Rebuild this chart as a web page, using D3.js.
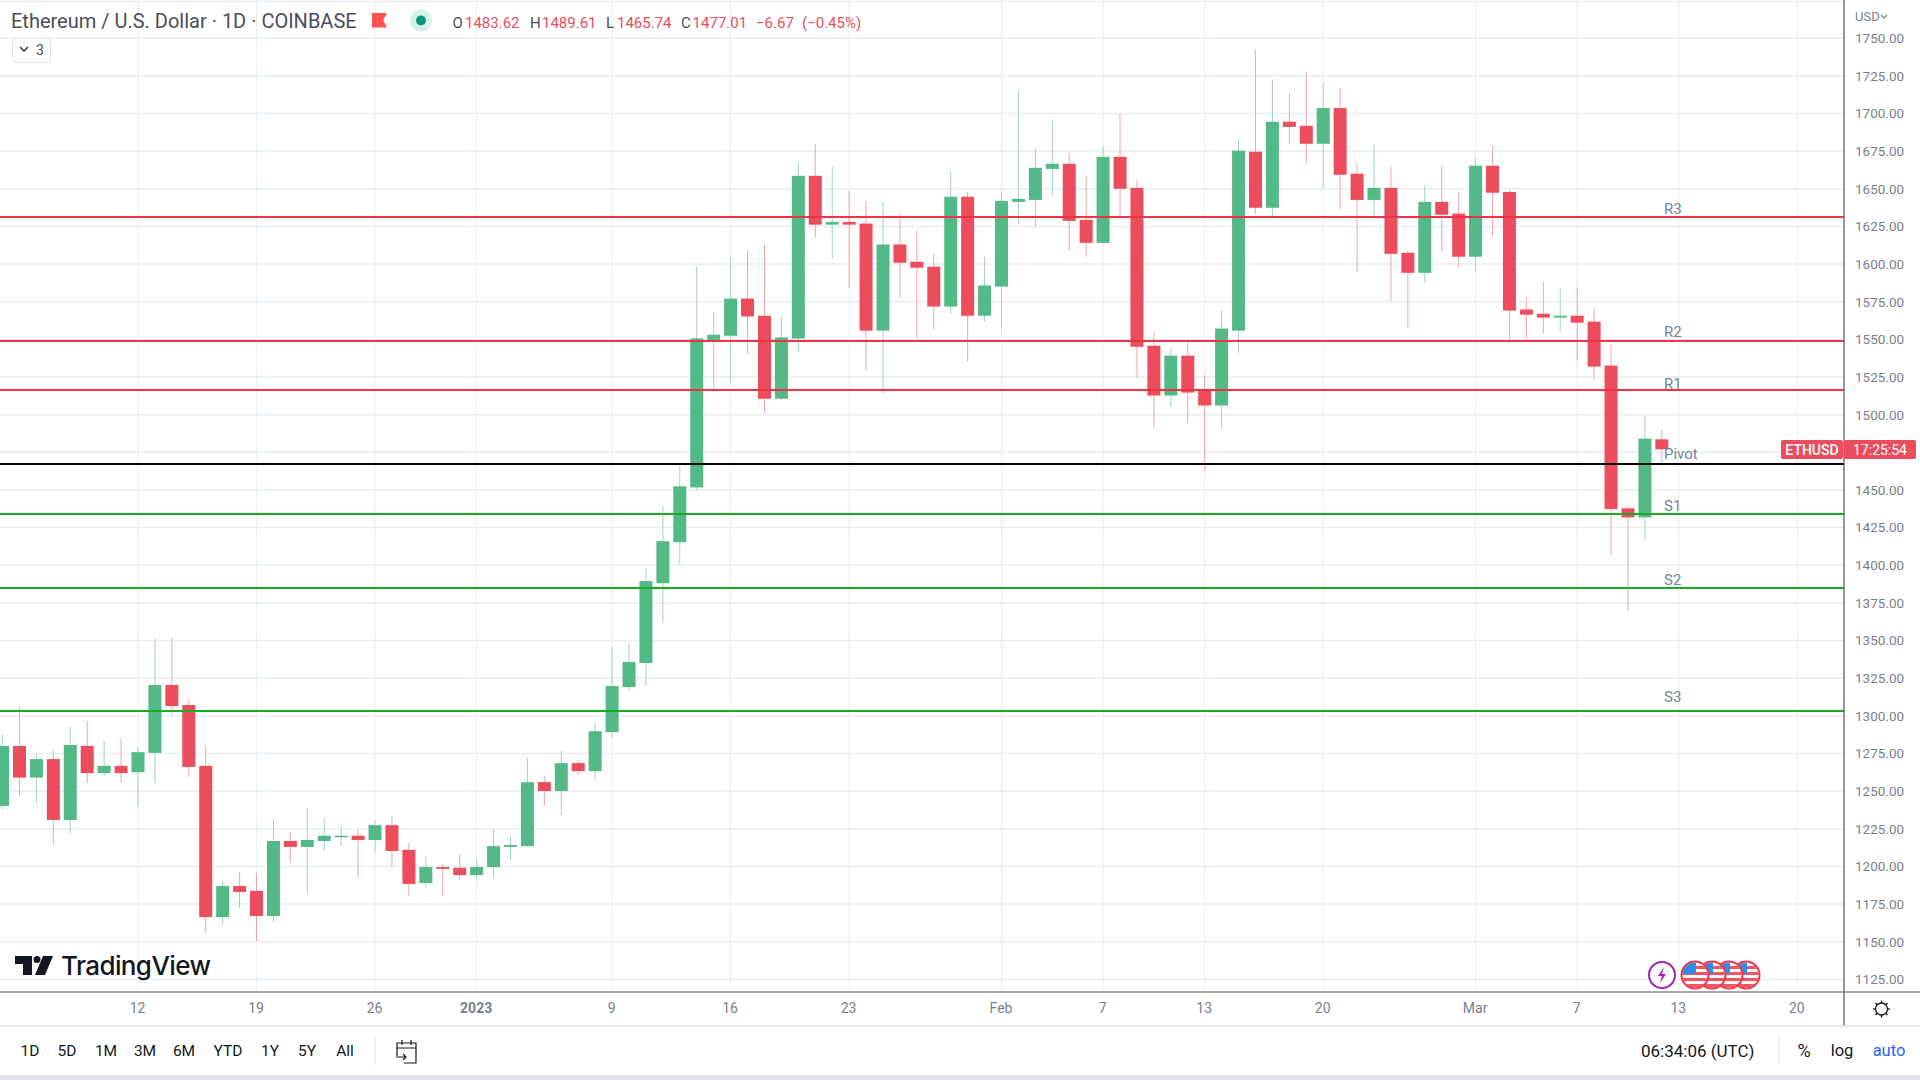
<!DOCTYPE html>
<html>
<head>
<meta charset="utf-8">
<script src="https://cdn.jsdelivr.net/npm/d3@7/dist/d3.min.js"></script>
<style>
html,body{margin:0;padding:0;background:#fff;overflow:hidden}
svg{display:block}
text{font-family:Roboto,"Open Sans",sans-serif}
</style>
</head>
<body>
<svg id="c" width="1920" height="1080"></svg>
<script>
const firstDay = "2022-12-04";
const opens = [1240.2,1280,1259,1271.3,1230.9,1280,1262,1266.8,1262.6,1275.4,1320.5,1307.2,1266.8,1166.4,1187,1183.8,1167.1,1216.9,1213,1216.9,1219.7,1220.4,1217.6,1227.4,1211,1189,1199.6,1199.1,1194.3,1199.6,1213,1213.5,1256,1250.1,1268.6,1263.3,1289.2,1319.1,1335.1,1388.1,1415.3,1451.7,1549.5,1552.4,1577.1,1565.7,1510.6,1550.6,1658.6,1626.2,1628,1626.9,1555.8,1613,1601.5,1598.3,1571.8,1644.7,1565.7,1585.1,1641.3,1642.6,1663.2,1666.6,1629.4,1614.1,1671.2,1650.6,1545.8,1512.7,1539.2,1516.6,1506.1,1555.8,1674.6,1637.4,1694.5,1691.8,1679.9,1703.6,1660,1642.6,1650.6,1607.5,1594.2,1641.3,1633.5,1604.9,1665.3,1647.9,1569.8,1567,1564.5,1565.7,1561.8,1532.6,1437.8,1431.8,1483.62];
const highs = [1287.3,1305.8,1275,1277.3,1292.6,1296.5,1283.2,1284.8,1279.3,1351.1,1351.6,1311.1,1280,1190.4,1196.4,1195.7,1231.5,1222.9,1238.9,1231.5,1227.4,1224.2,1230.9,1233.8,1215.6,1206.4,1201.8,1208.2,1204.4,1224.7,1219.7,1272.2,1259.9,1276.6,1270.6,1295.3,1345.8,1348.4,1398.2,1439.1,1466.3,1598.3,1567.9,1604.5,1608.8,1612.9,1565.2,1668,1679.9,1664.6,1648.6,1641.7,1641,1633.5,1622.1,1606.8,1661.4,1647.9,1604.9,1647.9,1715.1,1676.4,1695.2,1673.9,1658.6,1678.5,1699.5,1655.9,1555.2,1544,1549.2,1526.6,1569.1,1682.4,1742.2,1722.4,1713.7,1727,1720.3,1716.9,1667.3,1679.2,1664.6,1608.8,1652,1665.3,1647.9,1669.8,1678.5,1649.3,1577.8,1588.3,1583.7,1584.4,1571.2,1546.5,1439.1,1499.4,1489.61];
const lows = [1238,1246.9,1242.1,1214.9,1221.7,1255.3,1259.7,1255.3,1240.2,1255.3,1300.6,1259.4,1155.9,1161.8,1172.4,1150.4,1163.2,1203,1182.4,1211,1213.5,1192.9,1209.2,1199.6,1180.4,1186.3,1180.4,1191.1,1190.4,1192.4,1204.4,1213,1240.2,1234.1,1260.8,1257.4,1285.7,1316.6,1319.8,1361.6,1400.7,1449.9,1517.3,1521.4,1540.5,1501,1509.5,1541.9,1617.5,1603.6,1584.4,1529.4,1514.3,1577.8,1550.6,1556.5,1567,1535.3,1561.8,1557.2,1626.2,1624.8,1645.4,1608.8,1604.9,1613.4,1631.9,1524.5,1491.4,1505.4,1494.2,1462.4,1490.8,1541.2,1633.5,1630.1,1680.6,1666.6,1650.6,1636.7,1594.9,1629.4,1575.7,1557.9,1587.6,1608.2,1597.6,1594.9,1618.9,1547.9,1550.6,1553.8,1555.2,1536,1523.4,1406.6,1369.8,1417.2,1465.74];
const closes = [1280,1259,1271.3,1230.9,1280.7,1262,1266.8,1262,1275.9,1320.5,1306.5,1266.1,1166.4,1187,1183.1,1167.1,1216.9,1213,1217.6,1220.4,1220.4,1217.6,1227.4,1210.3,1188.4,1199.6,1198.4,1194.3,1199.6,1213.5,1214.2,1256,1250.1,1268.6,1263.3,1289.8,1319.8,1335.8,1389.5,1416,1452.4,1550.6,1553.1,1577.1,1565.2,1510.6,1551.3,1658.6,1626.2,1628,1626.2,1555.8,1613,1600.9,1597.6,1571.8,1644.7,1565.7,1585.8,1642,1643.3,1663.9,1666.6,1628.7,1614.1,1671.2,1650,1545.1,1512.7,1539.2,1514.7,1506.1,1557.2,1675.3,1637.4,1694.5,1691.1,1679.9,1703.6,1659.3,1642.6,1650.6,1606.8,1594.2,1641.3,1632.8,1604.9,1665.3,1647.4,1569.1,1566.4,1564.5,1565.7,1561.1,1531.9,1437.3,1431.8,1484.1,1477.01];

const levelNames = ["R3","R2","R1","Pivot","S1","S2","S3"];
const levelValues = [1631.5,1549.2,1516.1,1467.3,1434.2,1384.9,1303.3];
const levelColors = ["#ee3344","#ee3344","#ee3344","#000000","#18ac24","#18ac24","#18ac24"];
const levelLabelShift = [-7.6,-8.6,-6.4,-10,-8.4,-8,-13.9];

const priceTicks = [1125,1150,1175,1200,1225,1250,1275,1300,1325,1350,1375,1400,1425,1450,1475,1500,1525,1550,1575,1600,1625,1650,1675,1700,1725,1750];
const dateTicks = ["2022-12-12","2022-12-19","2022-12-26","2023-01-01","2023-01-09","2023-01-16","2023-01-23","2023-02-01","2023-02-07","2023-02-13","2023-02-20","2023-03-01","2023-03-07","2023-03-13","2023-03-20"];
const dateLabels = ["12","19","26","2023","9","16","23","Feb","7","13","20","Mar","7","13","20"];
const rangeButtons = ["1D","5D","1M","3M","6M","YTD","1Y","5Y","All"];
const rangeCenters = [30,67,106,145,184,228,270,307,345];

const UP="#53b987", DOWN="#eb4d5c", GRID="#e6edf3", AXIS="#50535e", MUTED="#7b7f8a";
const svg=d3.select("#c");
const day=d=>new Date(d+"T00:00:00Z");
const x=d3.scaleUtc().domain([day("2022-12-12"),day("2023-03-20")]).range([138,1797.3]);
const y=d3.scaleLinear().domain([1125,1750]).range([979.4,38.2]);
const W=1844,H=992;

// grid
svg.append("defs").append("clipPath").attr("id","plot").append("rect").attr("width",W).attr("height",H);
const grid=svg.append("g").attr("clip-path","url(#plot)");
grid.selectAll(".v").data(dateTicks).join("line").attr("x1",d=>x(day(d))).attr("x2",d=>x(day(d))).attr("y1",0).attr("y2",H).attr("stroke",GRID).attr("stroke-width",1);
grid.selectAll(".h").data(priceTicks).join("line").attr("y1",d=>y(d)).attr("y2",d=>y(d)).attr("x1",0).attr("x2",W).attr("stroke",GRID).attr("stroke-width",1.5);
grid.append("line").attr("x1",0).attr("x2",W).attr("y1",1.5).attr("y2",1.5).attr("stroke",GRID).attr("stroke-width",1.5);

// candles
const rows=opens.map((o,i)=>({date:d3.utcDay.offset(day(firstDay),i),o,h:highs[i],l:lows[i],c:closes[i]}));
const cg=svg.append("g").attr("clip-path","url(#plot)");
cg.selectAll(".wick").data(rows).join("line")
 .attr("x1",d=>x(d.date)).attr("x2",d=>x(d.date)).attr("y1",d=>y(d.h)).attr("y2",d=>y(d.l))
 .attr("stroke",d=>d.c>=d.o?"#9fd3c4":"#f4a3ab").attr("stroke-width",1);
cg.selectAll(".body").data(rows).join("rect")
 .attr("x",d=>x(d.date)-6.5).attr("width",13)
 .attr("y",d=>y(Math.max(d.o,d.c))).attr("height",d=>Math.max(1.5,Math.abs(y(d.o)-y(d.c))))
 .attr("fill",d=>d.c>=d.o?UP:DOWN);

// levels
const lg=svg.append("g");
levelValues.forEach((v,i)=>{
  const ly=Math.round(y(v));
  lg.append("line").attr("x1",0).attr("x2",W).attr("y1",ly).attr("y2",ly).attr("stroke",levelColors[i]).attr("stroke-width",2);
});
lg.selectAll("text").data(levelNames).join("text")
 .attr("x",1664).attr("y",(d,i)=>y(levelValues[i])+levelLabelShift[i]).attr("dy","0.35em")
 .attr("font-size",15).attr("fill","#728496").text(d=>d);

// price axis
const yAxis=d3.axisRight(y).tickValues(priceTicks).tickFormat(d3.format(".2f")).tickSize(0).tickPadding(11);
const ya=svg.append("g").attr("transform",`translate(${W},0)`).call(yAxis);
ya.select(".domain").remove();
ya.selectAll("text").attr("font-size",13.5).attr("fill",MUTED).style("font-family","Roboto");
svg.append("line").attr("x1",W).attr("x2",W).attr("y1",0).attr("y2",1026).attr("stroke",AXIS).attr("stroke-width",1.2);
svg.append("text").attr("x",1855).attr("y",21).attr("font-size",13).attr("fill",MUTED).text("USD");
svg.append("path").attr("d","M1881 15l3 3l3-3").attr("fill","none").attr("stroke",MUTED).attr("stroke-width",1.2);

// time axis
const xAxis=d3.axisBottom(x).tickValues(dateTicks.map(day)).tickFormat((d,i)=>dateLabels[i]).tickSize(0).tickPadding(11);
const xa=svg.append("g").attr("transform",`translate(-1,${H})`).call(xAxis);
xa.select(".domain").remove();
xa.selectAll("text").attr("font-size",14).attr("fill",MUTED).style("font-family","Roboto")
  .attr("font-weight",(d,i)=>dateLabels[i]==="2023"?700:400);
svg.append("line").attr("x1",0).attr("x2",1920).attr("y1",H).attr("y2",H).attr("stroke",AXIS).attr("stroke-width",1.2);
svg.append("line").attr("x1",0).attr("x2",1920).attr("y1",1026).attr("y2",1026).attr("stroke","#e0e3eb").attr("stroke-width",1.5);

// last price label
svg.append("rect").attr("x",1781).attr("y",440).attr("width",62).attr("height",19).attr("rx",2).attr("fill",DOWN);
svg.append("rect").attr("x",1844).attr("y",440).attr("width",72).attr("height",19).attr("rx",2).attr("fill",DOWN);
svg.append("text").attr("x",1812).attr("y",454.8).attr("text-anchor","middle").attr("font-size",14).attr("font-weight",500).attr("fill","#fff").text("ETHUSD");
svg.append("text").attr("x",1880).attr("y",454.8).attr("text-anchor","middle").attr("font-size",14).attr("fill","#fff").text("17:25:54");

// header
svg.append("text").attr("x",11).attr("y",28).attr("font-size",20).attr("fill","#4c4e58").text("Ethereum / U.S. Dollar · 1D · COINBASE");
svg.append("path").attr("d","M372 13H387L383 20.3L387 27.6H372Z").attr("fill","#ff5252");
svg.append("circle").attr("cx",421).attr("cy",20.5).attr("r",11).attr("fill","#d8f0ea");
svg.append("circle").attr("cx",421).attr("cy",20.5).attr("r",5).attr("fill","#089981");
const ohlcKeys=[["O",452.5],["H",530],["L",606],["C",681]];
const ohlcVals=[["1483.62",465],["1489.61",542],["1465.74",617],["1477.01",692.6],["−6.67",756],["(−0.45%)",802]];
svg.selectAll(".k").data(ohlcKeys).join("text").attr("x",d=>d[1]).attr("y",28).attr("font-size",15).attr("fill","#4c4e58").text(d=>d[0]);
svg.selectAll(".w").data(ohlcVals).join("text").attr("x",d=>d[1]).attr("y",28).attr("font-size",15).attr("fill",DOWN).text(d=>d[0]);
svg.append("rect").attr("x",12.5).attr("y",38.5).attr("width",38).attr("height",24).attr("rx",4).attr("fill","#fff").attr("stroke","#e0e3eb");
svg.append("path").attr("d","M20 47l4 4l4-4").attr("fill","none").attr("stroke","#333").attr("stroke-width",1.5);
svg.append("text").attr("x",36).attr("y",55).attr("font-size",14).attr("fill","#4c4e58").text("3");

// TradingView logo
const logo=svg.append("g").attr("fill","#131722");
logo.append("path").attr("d","M15 956H32V975H23V964H15Z");
logo.append("circle").attr("cx",37).attr("cy",959.5).attr("r",3.5);
logo.append("path").attr("d","M43 956H53L45 975H35Z");
svg.append("text").attr("x",61).attr("y",975).attr("font-size",26).attr("font-weight",500).attr("fill","#131722").style("font-family","Inter").attr("letter-spacing",-0.6).text("TradingView");

// event icons
const defs=svg.select("defs");
const flagX=[1746,1729,1712,1695];
flagX.forEach((cx,i)=>{
  const id="f"+i;
  defs.append("clipPath").attr("id",id).append("circle").attr("cx",cx).attr("cy",975).attr("r",12.5);
  const g=svg.append("g");
  g.append("circle").attr("cx",cx).attr("cy",975).attr("r",13.5).attr("fill","#fff").attr("stroke","#f23645").attr("stroke-width",2);
  const f=g.append("g").attr("clip-path",`url(#${id})`);
  f.selectAll("rect.s").data([0,1,2,3]).join("rect").attr("x",cx-14).attr("width",28).attr("y",d=>966+d*6).attr("height",3).attr("fill","#f23645").attr("opacity",.85);
  f.append("rect").attr("x",cx-13).attr("y",962).attr("width",14).attr("height",12).attr("fill","#2f8fe6");
});
svg.append("circle").attr("cx",1662).attr("cy",975).attr("r",13).attr("fill","#fff").attr("stroke","#9c27b0").attr("stroke-width",2);
svg.append("path").attr("d","M1664 967L1658 976H1662L1660 983L1666 974H1662Z").attr("fill","#9c27b0");

// settings icon
const gx=1881.5,gy=1009;
svg.append("circle").attr("cx",gx).attr("cy",gy).attr("r",6).attr("fill","none").attr("stroke","#131722").attr("stroke-width",1.3);
d3.range(8).forEach(i=>{const a=i*Math.PI/4;
  svg.append("line").attr("x1",gx+6*Math.cos(a)).attr("y1",gy+6*Math.sin(a)).attr("x2",gx+8.5*Math.cos(a)).attr("y2",gy+8.5*Math.sin(a)).attr("stroke","#131722").attr("stroke-width",1.3);});

// bottom toolbar
svg.selectAll(".rb").data(rangeButtons).join("text").attr("x",(d,i)=>rangeCenters[i]).attr("y",1056).attr("text-anchor","middle").attr("font-size",15.5).attr("fill","#131722").text(d=>d);
svg.append("line").attr("x1",375).attr("x2",375).attr("y1",1037).attr("y2",1065).attr("stroke","#e0e3eb");
svg.append("path").attr("d","M397 1056V1043H416V1063H404M397 1048H416M402 1040V1045M411 1040V1045M396 1057H406M403 1054L406 1057L403 1060").attr("fill","none").attr("stroke","#131722").attr("stroke-width",1.2);
svg.append("text").attr("x",1641).attr("y",1056.5).attr("font-size",17).attr("fill","#131722").text("06:34:06 (UTC)");
svg.append("line").attr("x1",1779).attr("x2",1779).attr("y1",1037).attr("y2",1065).attr("stroke","#e0e3eb");
svg.append("text").attr("x",1804).attr("y",1057).attr("text-anchor","middle").attr("font-size",18).attr("fill","#131722").text("%");
svg.append("text").attr("x",1842).attr("y",1056).attr("text-anchor","middle").attr("font-size",16.5).attr("fill","#131722").text("log");
svg.append("text").attr("x",1889).attr("y",1056).attr("text-anchor","middle").attr("font-size",16.5).attr("fill","#2962ff").text("auto");
svg.append("rect").attr("x",0).attr("y",1075).attr("width",1920).attr("height",5).attr("fill","#e0e3eb");
</script>
</body>
</html>
